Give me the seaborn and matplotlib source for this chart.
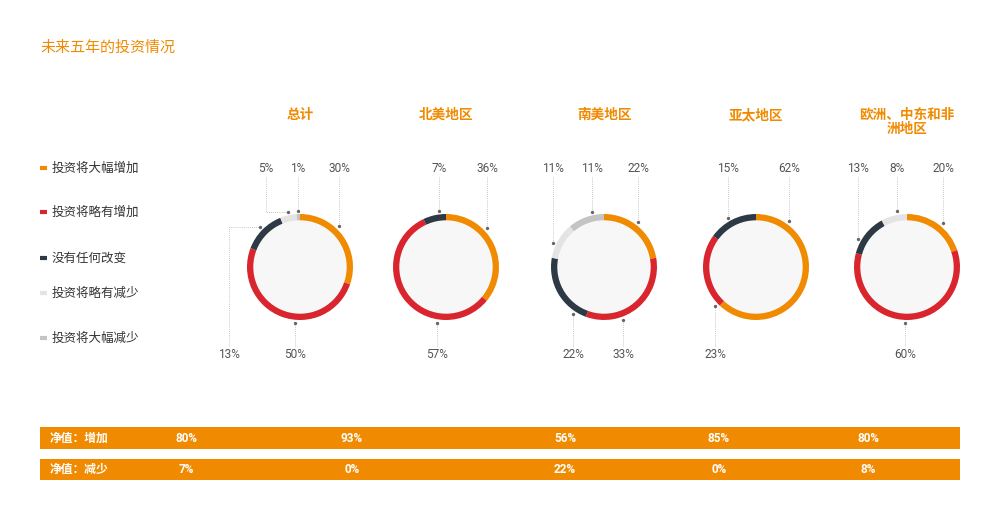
import numpy as np
import matplotlib
matplotlib.use("Agg")
import matplotlib.pyplot as plt
from matplotlib.patches import Rectangle, Circle
import seaborn as sns

# ---- data ----
title = "未来五年的投资情况"
regions = ["总计", "北美地区", "南美地区", "亚太地区", "欧洲、中东和非\n洲地区"]
categories = ["投资将大幅增加", "投资将略有增加", "没有任何改变", "投资将略有减少", "投资将大幅减少"]

# share of respondents per category (%), same order as categories
total_vals = [30, 50, 13, 5, 1]
north_america_vals = [36, 57, 7, 0, 0]
south_america_vals = [22, 33, 22, 11, 11]
asia_pacific_vals = [62, 23, 15, 0, 0]
emea_vals = [20, 60, 13, 8, 0]

net_increase = [80, 93, 56, 85, 80]
net_decrease = [7, 0, 22, 0, 8]
net_labels = ["净值：增加", "净值：减少"]

# ---- style ----
sns.set_theme(style="white")
plt.rcParams['font.family'] = ['Roboto', 'Noto Sans CJK SC', 'DejaVu Sans']

ORANGE = "#f08a00"
palette = [ORANGE, "#d9252e", "#2d3945", "#e4e4e4", "#c4c4c4"]
TEXT = "#333333"
NUM = "#555555"

W, H = 1000, 520
fig = plt.figure(figsize=(W / 100, H / 100), dpi=100)
fig.patch.set_facecolor("white")

# overlay axes in pixel coordinates for title, legend and net bands
ax0 = fig.add_axes([0, 0, 1, 1])
ax0.set_xlim(0, W)
ax0.set_ylim(H, 0)
ax0.axis("off")

ax0.text(40, 52, title, color=ORANGE, fontsize=10.8, va="baseline", ha="left")

legend_y = [168, 212, 258, 293, 338]
for cat, col, ly in zip(categories, palette, legend_y):
    ax0.plot([40, 47], [ly, ly], color=col, lw=3, solid_capstyle="butt")
    ax0.text(52, ly, cat, color=TEXT, fontsize=9, va="center", ha="left")

# ---- donuts ----
centers_x = [300, 446, 604, 756, 907]
CY = 267
R_OUT, RING, R_DOT = 53, 7, 56.5
TOP_Y, BOT_Y = 99, -88

# label layout per region: (x offset in px, row) for each non-zero category
label_layout = [
    [(39, "top"), (-5, "bottom"), (-71, "bottom"), (-34, "top"), (-2, "top")],
    [(41, "top"), (-9, "bottom"), (-7, "top")],
    [(34, "top"), (19, "bottom"), (-31, "bottom"), (-51, "top"), (-12, "top")],
    [(33, "top"), (-41, "bottom"), (-28, "top")],
    [(36, "top"), (-2, "bottom"), (-49, "top"), (-10, "top")],
]
region_vals = [total_vals, north_america_vals, south_america_vals,
               asia_pacific_vals, emea_vals]


def in_slice(ang, a0, a1):
    return (a0 - ang) % 360 <= (a0 - a1)


def anchor(x_off, row, a0, a1):
    if abs(x_off) < R_DOT:
        y = np.sqrt(R_DOT ** 2 - x_off ** 2) * (1 if row == "top" else -1)
        ang = np.degrees(np.arctan2(y, x_off))
        if in_slice(ang, a0, a1):
            return x_off, y, False
    mid = np.radians((a0 + a1) / 2)
    return R_DOT * np.cos(mid), R_DOT * np.sin(mid), True


for cx, name, vals, layout in zip(centers_x, regions, region_vals, label_layout):
    ax = fig.add_axes([(cx - 80) / W, (H - CY - 105) / H, 160 / W, 210 / H])
    ax.pie(vals, colors=palette, startangle=90, counterclock=False, radius=R_OUT,
           wedgeprops=dict(width=RING, edgecolor="none"))
    ax.add_patch(Circle((0, 0), R_OUT - RING, color="#f7f7f7", zorder=1))
    ax.set_xlim(-80, 80)
    ax.set_ylim(-105, 105)
    ax.set_aspect("equal")
    ax.axis("off")

    # region title (one baseline per line)
    for k, line in enumerate(name.split("\n")):
        ax.text(0, 148 - 14 * k, line, color=ORANGE, fontsize=9.8, fontweight="bold",
                ha="center", va="baseline")

    total = float(sum(vals))
    start = 90.0
    li = 0
    for v in vals:
        span = 360.0 * v / total
        a0, a1 = start, start - span
        start = a1
        if v == 0:
            continue
        x_off, row = layout[li]
        li += 1
        ty = TOP_Y if row == "top" else BOT_Y
        ax.text(x_off, ty, f"{v}%", color=NUM, fontsize=8.6, ha="center", va="center")
        dx, dy, elbow = anchor(x_off, row, a0, a1)
        y_start = ty - 9 if row == "top" else ty + 9
        if elbow:
            xs, ys = [x_off, x_off, dx], [y_start, dy, dy]
        else:
            xs, ys = [x_off, dx], [y_start, dy]
        ax.plot(xs, ys, color="#b5b5b5", lw=0.6, ls=(0, (1, 1.5)), clip_on=False)
        ax.plot(dx, dy, "o", color="#666666", ms=1.4, clip_on=False)

# ---- net bands ----
band_y = [(427, 449), (459, 480)]
value_x = [186, 352, 565, 719, 868]
for (y0, y1), lab, row in zip(band_y, net_labels, [net_increase, net_decrease]):
    ax0.add_patch(Rectangle((40, y0), 920, y1 - y0, color=ORANGE, lw=0))
    yc = (y0 + y1) / 2
    ax0.text(50, yc, lab, color="white", fontsize=8.5, fontweight="bold",
             ha="left", va="center")
    for vx, v in zip(value_x, row):
        ax0.text(vx, yc, f"{v}%", color="white", fontsize=8.5, fontweight="bold",
                 ha="center", va="center")

fig.savefig("out.png", dpi=100, facecolor="white")
